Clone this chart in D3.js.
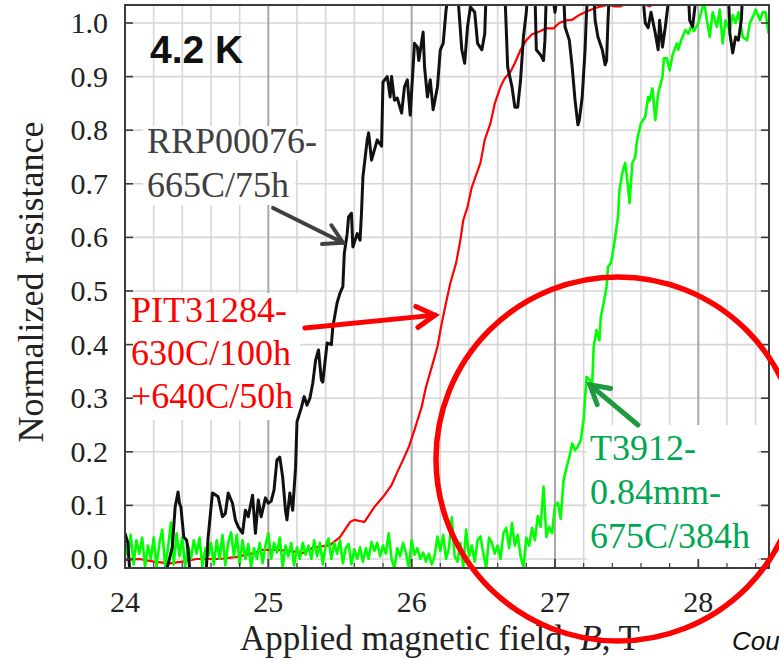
<!DOCTYPE html>
<html>
<head>
<meta charset="utf-8">
<script src="https://cdn.jsdelivr.net/npm/d3@7"></script>
<style>
  html, body { margin: 0; padding: 0; background: #fff; }
  svg { display: block; }
  .serif { font-family: "Liberation Serif", "Times New Roman", Times, "DejaVu Serif", serif; }
  .sans { font-family: "Liberation Sans", Arial, Helvetica, sans-serif; }
</style>
</head>
<body>
<script>
// ---- data: normalized resistance vs applied field (T) at 4.2 K ----
const xTicks = [24, 25, 26, 27, 28];
const yTicks = [0, 0.1, 0.2, 0.3, 0.4, 0.5, 0.6, 0.7, 0.8, 0.9, 1.0];

// RRP00076 - 665C/75h
const blackTrace = [
  [24.00,0.048],[24.02,0.03],[24.035,-0.03],[24.28,-0.03],[24.31,0.0],[24.33,0.022],[24.35,0.097],
  [24.37,0.125],[24.38,0.104],[24.39,0.097],[24.41,0.041],[24.43,0.035],[24.44,0.017],[24.455,-0.03],
  [24.565,-0.03],[24.58,0.041],[24.61,0.123],[24.63,0.12],[24.65,0.116],[24.68,0.079],[24.70,0.085],
  [24.72,0.123],[24.75,0.104],[24.77,0.073],[24.79,0.06],[24.82,0.048],[24.84,0.091],[24.86,0.079],
  [24.89,0.119],[24.91,0.048],[24.93,0.11],[24.95,0.079],[24.98,0.114],[25.00,0.104],[25.02,0.108],
  [25.04,0.129],[25.06,0.185],[25.08,0.19],[25.10,0.153],[25.12,0.09],[25.13,0.073],[25.15,0.123],
  [25.17,0.091],[25.19,0.17],[25.20,0.256],[25.23,0.282],[25.25,0.303],[25.27,0.287],[25.29,0.30],
  [25.31,0.328],[25.33,0.371],[25.35,0.39],[25.37,0.334],[25.38,0.33],[25.41,0.403],[25.44,0.40],
  [25.45,0.433],[25.48,0.478],[25.50,0.496],[25.52,0.508],[25.53,0.57],[25.55,0.607],[25.56,0.638],
  [25.58,0.645],[25.59,0.582],[25.62,0.607],[25.64,0.595],[25.65,0.645],[25.66,0.713],[25.69,0.782],
  [25.70,0.795],[25.72,0.744],[25.76,0.782],[25.79,0.77],[25.80,0.89],[25.83,0.90],[25.85,0.862],
  [25.86,0.90],[25.88,0.856],[25.90,0.86],[25.93,0.832],[25.95,0.881],[25.97,0.894],[25.99,0.828],
  [26.02,0.962],[26.04,0.955],[26.05,0.93],[26.08,0.983],[26.09,0.918],[26.11,0.862],[26.13,0.894],
  [26.15,0.838],[26.18,0.881],[26.20,0.95],[26.22,0.962],[26.24,1.024],[26.26,1.06],[26.32,1.06],
  [26.35,0.95],[26.37,0.925],[26.39,0.993],[26.41,1.03],[26.44,1.02],[26.46,0.962],[26.49,0.95],
  [26.51,0.98],[26.52,1.06],[26.65,1.06],[26.67,0.918],[26.70,0.881],[26.72,0.843],[26.74,0.843],
  [26.76,0.894],[26.78,0.974],[26.80,1.02],[26.81,1.06],[26.86,1.06],[26.87,0.95],[26.90,0.94],
  [26.92,0.93],[26.93,0.968],[26.94,1.06],[26.98,1.06],[27.00,1.02],[27.02,1.06],[27.06,1.06],
  [27.07,0.993],[27.10,0.968],[27.12,0.918],[27.14,0.856],[27.16,0.81],[27.17,0.819],[27.19,0.862],
  [27.21,0.95],[27.22,1.02],[27.23,1.06],[27.27,1.06],[27.28,1.005],[27.30,0.974],[27.33,0.95],
  [27.35,0.922],[27.36,0.93],[27.37,1.005],[27.38,1.06],[27.61,1.06],[27.63,1.0],[27.65,0.991],
  [27.67,1.02],[27.70,0.981],[27.72,0.95],[27.73,1.005],[27.75,0.955],[27.77,0.993],[27.80,1.06],
  [27.93,1.06],[27.94,1.005],[27.96,0.993],[27.99,1.06],[28.21,1.06],[28.22,0.981],[28.24,0.944],
  [28.26,0.974],[28.28,0.968],[28.30,1.005],[28.31,1.06],[28.50,1.06]
];

// PIT31284 - 630C/100h + 640C/50h
const redTrace = [
  [24.00,-0.002],[24.10,0.0],[24.20,-0.005],[24.31,-0.008],[24.40,-0.005],[24.50,0.0],[24.66,0.0],
  [24.78,0.004],[24.90,0.011],[24.96,0.017],[25.06,0.017],[25.15,0.015],[25.24,0.011],[25.31,0.021],
  [25.43,0.026],[25.50,0.041],[25.57,0.069],[25.60,0.073],[25.67,0.069],[25.74,0.097],[25.81,0.119],
  [25.86,0.138],[25.90,0.162],[25.94,0.185],[25.98,0.209],[26.02,0.241],[26.07,0.284],[26.10,0.321],
  [26.14,0.358],[26.18,0.396],[26.21,0.44],[26.24,0.478],[26.27,0.515],[26.31,0.552],[26.34,0.595],
  [26.36,0.632],[26.39,0.657],[26.42,0.694],[26.48,0.739],[26.51,0.782],[26.55,0.813],[26.58,0.85],
  [26.62,0.881],[26.65,0.897],[26.69,0.909],[26.72,0.925],[26.76,0.95],[26.80,0.968],[26.84,0.979],
  [26.90,0.985],[26.94,0.99],[26.99,0.99],[27.03,1.0],[27.08,1.005],[27.12,1.006],[27.17,1.015],
  [27.21,1.02],[27.28,1.028],[27.37,1.034],[27.42,1.031],[27.46,1.031],[27.50,1.037],[27.56,1.04],
  [27.62,1.036],[27.66,1.031],[27.70,1.037],[27.80,1.05],[28.00,1.06],[28.50,1.07]
];

// T3912 - 0.84mm - 675C/384h
const greenTrace = [
  [24.00,0.03],[24.02,0.005],[24.04,0.045],[24.06,-0.01],[24.08,0.035],[24.10,0.01],[24.12,0.04],
  [24.14,-0.015],[24.16,0.025],[24.18,0.0],[24.20,0.04],[24.22,-0.015],[24.24,0.03],[24.26,0.055],
  [24.28,-0.015],[24.30,0.02],[24.32,0.068],[24.34,-0.01],[24.36,0.048],[24.38,0.005],[24.40,0.04],
  [24.42,-0.015],[24.44,0.025],[24.46,0.0],[24.48,0.035],[24.50,0.01],[24.52,0.04],[24.54,-0.015],
  [24.56,0.02],[24.58,0.005],[24.60,0.03],[24.62,-0.01],[24.64,0.035],[24.66,0.0],[24.68,0.045],
  [24.70,-0.012],[24.72,0.03],[24.74,0.05],[24.76,0.005],[24.78,0.045],[24.80,-0.01],[24.82,0.035],
  [24.84,0.0],[24.86,0.028],[24.88,-0.015],[24.90,0.02],[24.92,0.0],[24.94,0.03],[24.96,-0.008],
  [24.98,0.025],[25.00,0.048],[25.02,0.0],[25.04,0.03],[25.06,0.012],[25.08,0.04],[25.10,-0.015],
  [25.12,0.025],[25.14,0.005],[25.16,0.03],[25.18,-0.012],[25.20,0.022],[25.22,0.0],[25.24,0.03],
  [25.26,0.008],[25.28,0.025],[25.30,0.0],[25.32,0.035],[25.34,0.005],[25.36,0.03],[25.38,-0.01],
  [25.40,0.025],[25.42,0.038],[25.44,0.0],[25.46,0.03],[25.48,0.01],[25.50,0.035],[25.52,-0.008],
  [25.54,0.02],[25.56,0.028],[25.58,-0.01],[25.60,0.018],[25.62,0.0],[25.64,0.022],[25.66,-0.005],
  [25.68,0.02],[25.70,0.0],[25.72,0.032],[25.74,0.015],[25.76,0.03],[25.78,0.005],[25.80,0.025],
  [25.82,0.01],[25.84,0.048],[25.86,0.0],[25.88,-0.017],[25.90,0.02],[25.92,0.005],[25.94,0.03],
  [25.96,0.012],[25.98,-0.017],[26.00,0.035],[26.02,0.008],[26.04,0.02],[26.06,0.0],[26.08,0.012],
  [26.10,-0.005],[26.12,0.01],[26.14,-0.01],[26.16,0.005],[26.18,0.042],[26.20,0.015],[26.22,0.045],
  [26.24,0.0],[26.26,0.02],[26.28,0.078],[26.30,0.005],[26.32,-0.005],[26.34,0.03],[26.36,-0.015],
  [26.38,0.055],[26.40,0.005],[26.42,0.025],[26.44,-0.005],[26.46,0.035],[26.48,0.042],[26.50,0.01],
  [26.52,-0.017],[26.54,0.04],[26.56,0.03],[26.58,0.01],[26.60,0.025],[26.62,0.0],[26.64,0.048],
  [26.66,0.058],[26.68,0.02],[26.70,0.067],[26.72,0.025],[26.74,0.045],[26.76,0.005],[26.78,-0.015],
  [26.80,0.04],[26.82,0.025],[26.84,0.058],[26.86,0.035],[26.88,0.08],[26.90,0.06],[26.92,0.135],
  [26.94,0.041],[26.96,0.06],[26.98,0.048],[27.00,0.10],[27.02,0.105],[27.04,0.075],[27.06,0.147],
  [27.08,0.17],[27.10,0.19],[27.12,0.216],[27.14,0.203],[27.16,0.21],[27.18,0.222],[27.20,0.26],
  [27.21,0.30],[27.22,0.34],[27.24,0.335],[27.26,0.328],[27.27,0.396],[27.29,0.427],[27.31,0.408],
  [27.32,0.452],[27.34,0.478],[27.36,0.508],[27.37,0.545],[27.39,0.552],[27.41,0.582],[27.43,0.62],
  [27.44,0.638],[27.45,0.688],[27.47,0.72],[27.49,0.739],[27.51,0.694],[27.52,0.664],[27.54,0.739],
  [27.56,0.75],[27.57,0.776],[27.58,0.79],[27.60,0.813],[27.63,0.825],[27.65,0.862],[27.66,0.855],
  [27.68,0.878],[27.70,0.819],[27.72,0.869],[27.75,0.90],[27.76,0.934],[27.78,0.934],[27.80,0.912],
  [27.82,0.94],[27.85,0.962],[27.86,0.95],[27.88,0.968],[27.91,0.987],[27.93,0.98],[27.95,0.993],
  [27.97,0.985],[28.00,1.0],[28.02,1.02],[28.04,1.04],[28.06,1.005],[28.08,0.974],[28.10,1.02],
  [28.13,0.993],[28.15,1.025],[28.17,0.962],[28.19,1.005],[28.22,0.987],[28.24,1.015],[28.26,1.0],
  [28.28,1.02],[28.31,0.974],[28.34,0.968],[28.36,1.0],[28.38,1.011],[28.40,1.025],[28.43,1.005],
  [28.45,1.02],[28.47,1.02],[28.49,0.981],[28.50,0.99]
];

const labelBlack = ["RRP00076-", "665C/75h"];
const labelRed = ["PIT31284-", "630C/100h", "+640C/50h"];
const labelGreen = ["T3912-", "0.84mm-", "675C/384h"];

// ---- layout ----
const W = 779, H = 660;
const plot = { left: 125, right: 769, top: 5, bottom: 568 };

const x = d3.scaleLinear().domain([24, 28]).range([125, 698.3]);
const y = d3.scaleLinear().domain([0, 1]).range([559, 23]);

const svg = d3.select("body").append("svg")
  .attr("width", W).attr("height", H)
  .attr("viewBox", `0 0 ${W} ${H}`);

svg.append("defs").append("clipPath").attr("id", "plotClip")
  .append("rect")
  .attr("x", plot.left).attr("y", plot.top)
  .attr("width", plot.right - plot.left).attr("height", plot.bottom - plot.top);

// ---- grid ----
const xMax = x.invert(plot.right);
const minorX = d3.range(24.2, xMax, 0.2).filter(v => Math.abs(v - Math.round(v)) > 1e-6);
const majorX = xTicks.filter(v => v > 24);
const grid = svg.append("g");
grid.selectAll(".hgrid").data(yTicks).join("line")
  .attr("x1", plot.left).attr("x2", plot.right)
  .attr("y1", d => y(d)).attr("y2", d => y(d))
  .attr("stroke", "#d6d6d6").attr("stroke-width", 1.6);
grid.selectAll(".vminor").data(minorX).join("line")
  .attr("x1", d => x(d)).attr("x2", d => x(d))
  .attr("y1", plot.top).attr("y2", plot.bottom)
  .attr("stroke", "#d6d6d6").attr("stroke-width", 1.6);
grid.selectAll(".vmajor").data(majorX).join("line")
  .attr("x1", d => x(d)).attr("x2", d => x(d))
  .attr("y1", plot.top).attr("y2", plot.bottom)
  .attr("stroke", "#a8a8a8").attr("stroke-width", 2);

// white backings behind the inline labels
const backs = [
  [143, 126, 181, 34],
  [143, 160, 152, 45],
  [126, 293, 174, 127],
  [587, 425, 170, 143]
];
svg.append("g").selectAll("rect").data(backs).join("rect")
  .attr("x", d => d[0]).attr("y", d => d[1])
  .attr("width", d => d[2]).attr("height", d => d[3])
  .attr("fill", "#fff");

// ---- curves ----
const line = d3.line().x(d => x(d[0])).y(d => y(d[1]));
const curves = svg.append("g").attr("clip-path", "url(#plotClip)")
  .attr("stroke-linejoin", "round").attr("stroke-linecap", "round").attr("fill", "none");
curves.append("path").datum(redTrace).attr("d", line)
  .attr("stroke", "#ff0000").attr("stroke-width", 2.2);
curves.append("path").datum(greenTrace).attr("d", line)
  .attr("stroke", "#00ff00").attr("stroke-width", 2.6);
curves.append("path").datum(blackTrace).attr("d", line)
  .attr("stroke", "#111").attr("stroke-width", 3);

// ---- frame and ticks ----
const frame = svg.append("g").attr("stroke", "#3c3c3c");
frame.append("rect")
  .attr("x", plot.left).attr("y", plot.top)
  .attr("width", plot.right - plot.left).attr("height", plot.bottom - plot.top)
  .attr("fill", "none").attr("stroke-width", 2);
frame.selectAll(".yl").data(yTicks).join("line")
  .attr("x1", plot.left).attr("x2", plot.left + 8)
  .attr("y1", d => y(d)).attr("y2", d => y(d)).attr("stroke-width", 1.6);
frame.selectAll(".yr").data(yTicks).join("line")
  .attr("x1", plot.right - 8).attr("x2", plot.right)
  .attr("y1", d => y(d)).attr("y2", d => y(d)).attr("stroke-width", 1.6);
frame.selectAll(".xmaj").data(majorX).join("line")
  .attr("x1", d => x(d)).attr("x2", d => x(d))
  .attr("y1", plot.bottom).attr("y2", plot.bottom - 9).attr("stroke-width", 1.8);
frame.selectAll(".xmin").data(minorX).join("line")
  .attr("x1", d => x(d)).attr("x2", d => x(d))
  .attr("y1", plot.bottom).attr("y2", plot.bottom - 5).attr("stroke-width", 1.2);

// tick labels
svg.append("g").attr("class", "serif").selectAll("text").data(yTicks).join("text")
  .attr("x", 108).attr("y", d => y(d) + 10)
  .attr("text-anchor", "end")
  .attr("font-size", 30).attr("fill", "#222")
  .text(d => d3.format(".1f")(d));
svg.append("g").attr("class", "serif").selectAll("text").data(xTicks).join("text")
  .attr("x", d => x(d)).attr("y", 612)
  .attr("text-anchor", "middle")
  .attr("font-size", 30).attr("fill", "#222")
  .text(d => d);

// axis titles
svg.append("text").attr("class", "serif")
  .attr("transform", "translate(43,282) rotate(-90)")
  .attr("text-anchor", "middle")
  .attr("font-size", 36).attr("fill", "#222")
  .text("Normalized resistance");
const xt = svg.append("text").attr("class", "serif")
  .attr("x", 440).attr("y", 650)
  .attr("text-anchor", "middle")
  .attr("font-size", 35).attr("fill", "#222");
xt.append("tspan").text("Applied magnetic field, ");
xt.append("tspan").attr("font-style", "italic").text("B");
xt.append("tspan").text(", T");

// temperature tag
svg.append("text").attr("class", "sans")
  .attr("x", 150).attr("y", 63)
  .attr("font-weight", "bold").attr("font-size", 39).attr("fill", "#111")
  .text("4.2 K");

// ---- annotations ----
function arrow(g, from, to, color, width) {
  const x0 = x(from[0]), y0 = y(from[1]), x1 = x(to[0]), y1 = y(to[1]);
  const a = Math.atan2(y1 - y0, x1 - x0);
  const len = 21, spread = Math.PI / 6;
  const w1 = [x1 - len * Math.cos(a - spread), y1 - len * Math.sin(a - spread)];
  const w2 = [x1 - len * Math.cos(a + spread), y1 - len * Math.sin(a + spread)];
  g.append("line").attr("x1", x0).attr("y1", y0).attr("x2", x1).attr("y2", y1)
    .attr("stroke", color).attr("stroke-width", width).attr("stroke-linecap", "round");
  g.append("path").attr("d", `M${w1[0]},${w1[1]}L${x1},${y1}L${w2[0]},${w2[1]}`)
    .attr("fill", "none").attr("stroke", color).attr("stroke-width", width)
    .attr("stroke-linecap", "round").attr("stroke-linejoin", "miter");
}
const ann = svg.append("g");
arrow(ann, [25.033, 0.655], [25.521, 0.59], "#404040", 4);
arrow(ann, [25.256, 0.431], [26.163, 0.455], "#ff0000", 5);
arrow(ann, [27.579, 0.25], [27.244, 0.325], "#1f9a3f", 5);

function block(lines, x0, y0, dy, color) {
  svg.append("g").attr("class", "serif").selectAll("text").data(lines).join("text")
    .attr("x", x0).attr("y", (d, i) => y0 + i * dy)
    .attr("font-size", 36).attr("fill", color)
    .text(d => d);
}
block(labelBlack, 147, 153, 44, "#404040");
block(labelRed, 131, 322, 43, "#ff0000");
block(labelGreen, 590, 460, 44, "#00a651");

// highlight ring
svg.append("circle")
  .attr("cx", 618).attr("cy", 459).attr("r", 182)
  .attr("fill", "none").attr("stroke", "#ff0000").attr("stroke-width", 5.5);

// credit line, running off the right edge
svg.append("text").attr("class", "sans")
  .attr("x", 732).attr("y", 650)
  .attr("font-style", "italic").attr("font-size", 26).attr("fill", "#111")
  .text("Cou");
</script>
</body>
</html>
